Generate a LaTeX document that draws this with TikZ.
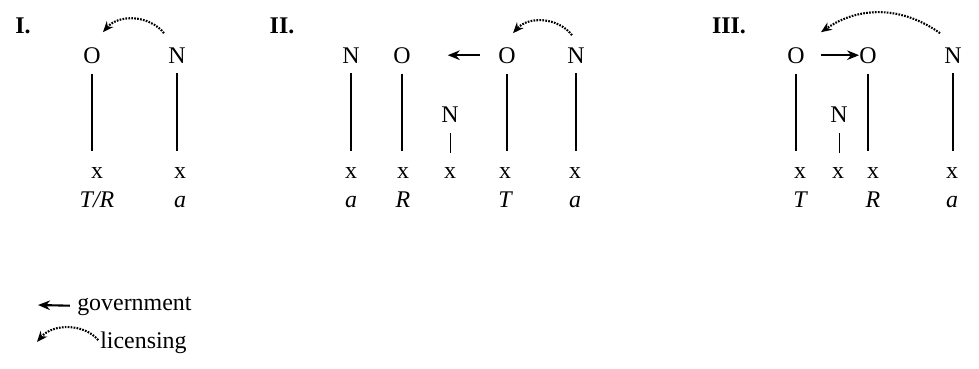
\documentclass[tikz,border=0pt]{standalone}
\usepackage{fontspec}
\setmainfont{Liberation Serif}
\newfontfamily\segfont{Liberation Serif}
\usetikzlibrary{arrows.meta,calc}
\newcommand{\segsize}{\segfont\fontsize{17}{20}\selectfont}
\tikzset{
  seg/.style={font=\segsize, inner sep=0pt, anchor=base},
  lab/.style={font=\segsize\itshape, inner sep=0pt, anchor=base},
  pnum/.style={font=\segsize\bfseries, inner sep=0pt, anchor=base},
  skel/.style={line width=0.9pt, shorten <=0.25cm, shorten >=0.55cm},
  skelmid/.style={line width=0.6pt, shorten <=0.27cm, shorten >=0.5cm},
  govarr/.style={-{Stealth[length=0.3cm, width=0.24cm]}, line width=1.5pt},
  licarr/.style={-{Stealth[length=0.27cm, width=0.22cm]}, line width=1.5pt,
      dash pattern=on 1.2pt off 0.9pt},
}

\begin{document}
\begin{tikzpicture}[x=0.025cm, y=-0.025cm]
  \useasboundingbox (0,0) rectangle (979,368);
  % I.
  \node[pnum] (p1) at (23,33) {I.};
  \node[seg] (o1) at (92,63) {O};
  \node[seg] (n1) at (177,63) {N};
  \node[seg] (x1a) at (97,178) {x};
  \node[seg] (x1b) at (180,178) {x};
  \node[lab] (l1a) at (97,207) {T/R};
  \node[lab] (l1b) at (180,207) {a};
  \draw[skel] (o1) -- (o1 |- x1a);
  \draw[skel] (n1) -- (n1 |- x1b);
  \draw[licarr] ($(n1)+(-13,-22)$) to[bend right=50] ($(o1)+(11,-23)$);
  % II.
  \node[pnum] (p2) at (282,33) {II.};
  \node[seg] (n2a) at (351,63) {N};
  \node[seg] (o2a) at (402,63) {O};
  \node[seg] (o2b) at (507,63) {O};
  \node[seg] (n2b) at (576,63) {N};
  \node[seg] (n2m) at (450,122) {N};
  \node[seg] (x2a) at (351,178) {x};
  \node[seg] (x2b) at (403,178) {x};
  \node[seg] (x2c) at (450,178) {x};
  \node[seg] (x2d) at (505,178) {x};
  \node[seg] (x2e) at (575,178) {x};
  \node[lab] (l2a) at (351,207) {a};
  \node[lab] (l2b) at (403,207) {R};
  \node[lab] (l2d) at (505,207) {T};
  \node[lab] (l2e) at (575,207) {a};
  \draw[skel] (n2a) -- (n2a |- x2a);
  \draw[skel] (o2a) -- (o2a |- x2b);
  \draw[skelmid] (n2m) -- (n2m |- x2c);
  \draw[skel] (o2b) -- (o2b |- x2d);
  \draw[skel] (n2b) -- (n2b |- x2e);
  \draw[govarr, shorten <=0.45cm, shorten >=0.92cm] (o2b) -- (o2a);
  \draw[licarr] ($(n2b)+(-4,-20)$) to[bend right=50] ($(o2b)+(6,-22)$);
  % III.
  \node[pnum] (p3) at (729,33) {III.};
  \node[seg] (o3a) at (796,63) {O};
  \node[seg] (o3b) at (868,63) {O};
  \node[seg] (n3b) at (953,63) {N};
  \node[seg] (n3m) at (839,122) {N};
  \node[seg] (x3a) at (800,178) {x};
  \node[seg] (x3b) at (838,178) {x};
  \node[seg] (x3c) at (873,178) {x};
  \node[seg] (x3d) at (952,178) {x};
  \node[lab] (l3a) at (800,207) {T};
  \node[lab] (l3c) at (873,207) {R};
  \node[lab] (l3d) at (952,207) {a};
  \draw[skel] (o3a) -- (o3a |- x3a);
  \draw[skelmid] (n3m) -- (n3m |- x3b);
  \draw[skel] (o3b) -- (o3b |- x3c);
  \draw[skel] (n3b) -- (n3b |- x3d);
  \draw[govarr, shorten <=0.4cm] (o3a) -- (o3b);
  \draw[licarr] ($(n3b)+(-13,-22)$) to[bend right=35] ($(o3a)+(25,-23)$);
  % legend
  \node[seg, anchor=base west] (govtxt) at (77,310) {government};
  \coordinate (govtip) at (38,305);
  \draw[govarr, shorten <=0.18cm] (govtxt.west) -- (govtip);
  \node[seg, anchor=base west] (lictxt) at (100,348) {licensing};
  \coordinate (lictip) at (37,342);
  \draw[licarr, shorten <=0.07cm] (lictxt.west) to[bend right=50] (lictip);
\end{tikzpicture}
\end{document}
